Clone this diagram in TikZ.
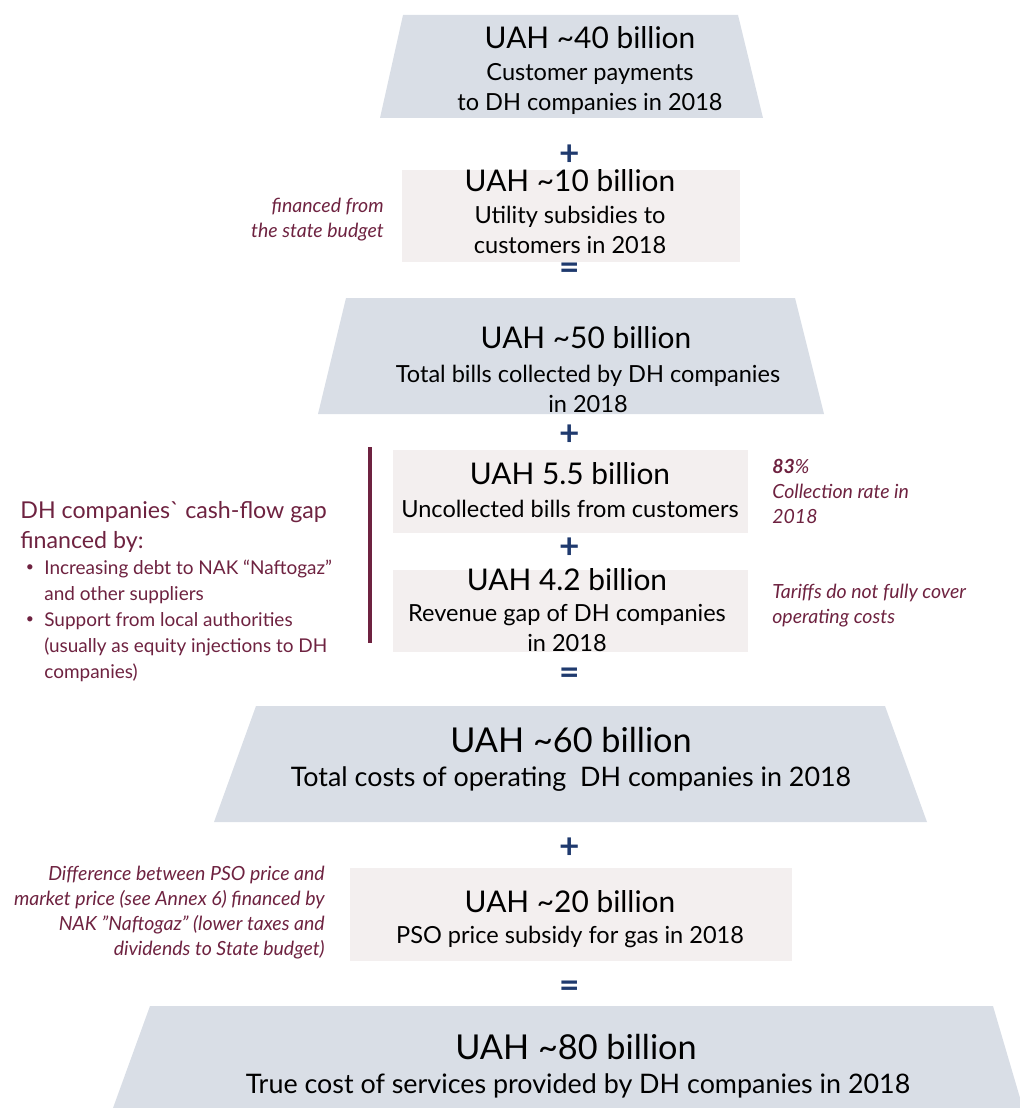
\documentclass[tikz,border=0pt]{standalone}
\usepackage{fontspec}
\setmainfont{Lato}
\newfontfamily\rawlato{Lato}[Ligatures=TeXOff]
\definecolor{trapgrey}{HTML}{D9DEE6}
\definecolor{boxpink}{HTML}{F3EFEF}
\definecolor{wine}{HTML}{6E2240}
\definecolor{navy}{HTML}{1F3A6E}
\tikzset{
  title/.style={font=\fontsize{17}{20}\selectfont, align=center, inner sep=0pt},
  bigtitle/.style={font=\fontsize{19.5}{23}\selectfont, align=center, inner sep=0pt},
  sub/.style={font=\fontsize{13.4}{16.8}\selectfont, align=center, inner sep=0pt},
  bigsub/.style={font=\fontsize{15.3}{18}\selectfont, align=center, inner sep=0pt},
  note/.style={font=\fontsize{11.1}{14.2}\selectfont\itshape, text=wine, inner sep=0pt},
  gaphead/.style={font=\fontsize{13.2}{17}\selectfont, text=wine, align=left, inner sep=0pt},
  gapitem/.style={font=\fontsize{10.8}{14.8}\selectfont, text=wine, align=left, inner sep=0pt},
  sign/.style={font=\fontsize{20}{20}\selectfont\bfseries, text=navy, inner sep=0pt},
}
\begin{document}
\begin{tikzpicture}[x=0.02cm,y=-0.02cm]
    \useasboundingbox (0,0) rectangle (1019,1108);
    % trapezoids and boxes
    \fill[trapgrey] (403,15) -- (738,15) -- (763,118) -- (380,118) -- cycle;
    \fill[boxpink] (402,170) rectangle (740,262);
    \fill[trapgrey] (346,298) -- (795,298) -- (824,414) -- (318,414) -- cycle;
    \fill[boxpink] (393,450) rectangle (748,533);
    \fill[boxpink] (393,570) rectangle (748,652);
    \fill[trapgrey] (256,706) -- (885,706) -- (927,822) -- (214,822) -- cycle;
    \fill[boxpink] (350,868) rectangle (792,961);
    \fill[trapgrey] (150,1006) -- (993,1006) -- (1023,1108) -- (113,1108) -- cycle;

    \node[title] (pay) at (590,38) {UAH \textasciitilde40 billion};
    \node[sub] (paytxt) at (590,89) {Customer payments\\to DH companies in 2018};
    \node[title] (subs) at (570,181) {UAH \textasciitilde10 billion};
    \node[sub] (substxt) at (570,230) {Utility subsidies to\\customers in 2018};
    \node[title] (bills) at (586,338) {UAH \textasciitilde50 billion};
    \node[sub] (billstxt) at (588,389) {Total bills collected by DH companies\\in 2018};
    \node[title] (uncol) at (570,474) {UAH 5.5 billion};
    \node[sub] (uncoltxt) at (570,509) {Uncollected bills from customers};
    \node[title] (revgap) at (567,580) {UAH 4.2 billion};
    \node[sub] (revgaptxt) at (567,628) {Revenue gap of DH companies\\in 2018};
    \node[bigtitle] (costs) at (571,740) {UAH \textasciitilde60 billion};
    \node[bigsub] (coststxt) at (571,779) {Total costs of operating\ \ DH companies in 2018};
    \node[title] (pso) at (570,902) {UAH \textasciitilde20 billion};
    \node[sub] (psotxt) at (570,937) {PSO price subsidy for gas in 2018};
    \node[bigtitle] (truecost) at (576,1047) {UAH \textasciitilde80 billion};
    \node[bigsub] (truecosttxt) at (578,1086) {True cost of services provided by DH companies in 2018};

    % plus and equal signs between the levels
    \foreach \y/\s in {155/+, 271/=, 435/+, 548/+, 676/=, 848/+, 989/=}
        \node[sign] at (570,\y) {\s};

    % side notes
    \node[note, align=right, anchor=east] (budget) at (384,220) {financed from\\the state budget};
    \node[note, align=left, anchor=north west] (rate) at (772,459) {\textbf{83}\%\\Collection rate in\\2018};
    \node[note, align=left, anchor=north west] (tariff) at (772,584) {Tariffs do not fully cover\\operating costs};
    \node[note, align=right, anchor=north east] (naftogaz) at (325,866) {Difference between PSO price and\\market price (see Annex 6) financed by\\NAK ”Naftogaz” (lower taxes and\\dividends to State budget)};

    % cash-flow gap
    \draw[wine, line width=2.3pt] (370,447) -- (370,643);
    \node[gaphead, anchor=north west] (gap) at (20,501) {DH companies{\rawlato\symbol{96}} cash-flow gap\\financed by:};
    \node[gapitem, anchor=north west] (debt) at (44,560) {Increasing debt to NAK “Naftogaz”\\and other suppliers};
    \node[gapitem, anchor=north west] (local) at (44,612) {Support from local authorities\\(usually as equity injections to DH\\companies)};
    \node[gapitem, font=\fontsize{8}{8}\selectfont] at ([shift={(-14,8)}]debt.north west) {\textbullet};
    \node[gapitem, font=\fontsize{8}{8}\selectfont] at ([shift={(-14,8)}]local.north west) {\textbullet};
\end{tikzpicture}
\end{document}
